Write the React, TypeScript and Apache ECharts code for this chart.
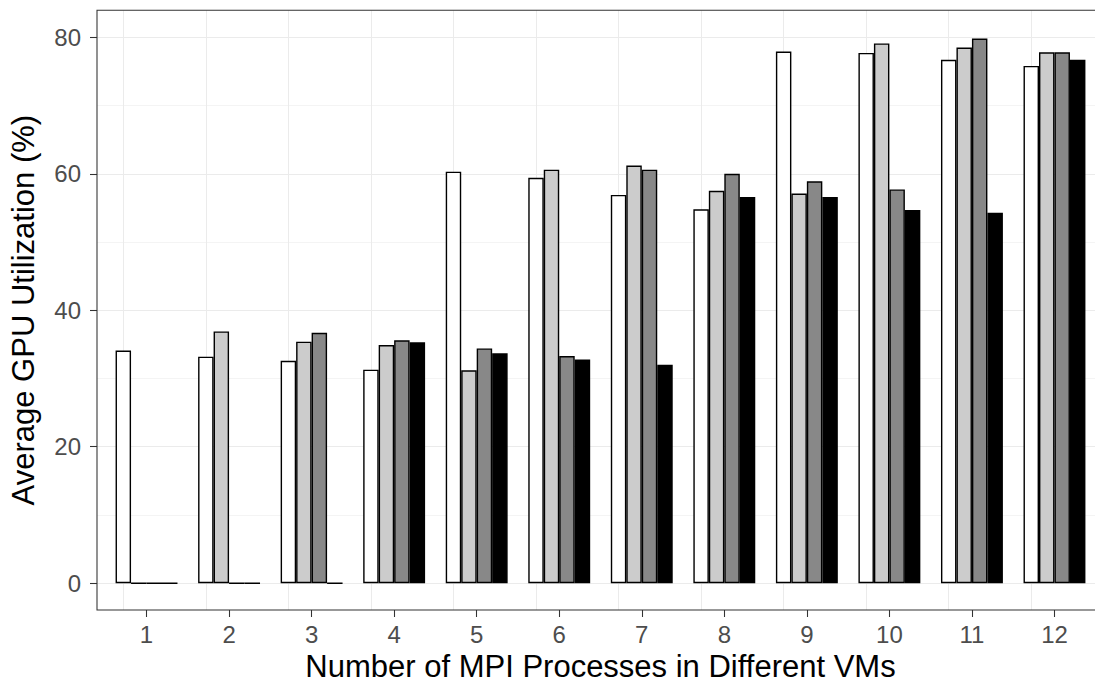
import React, { useEffect, useRef } from "react";
import * as echarts from "echarts";

const categories = [1, 2, 3, 4, 5, 6, 7, 8, 9, 10, 11, 12];
const seriesNames = ["Group 1", "Group 2", "Group 3", "Group 4"];
const whiteValues = [34.1, 33.2, 32.6, 31.3, 60.3, 59.4, 56.9, 54.8, 77.9, 77.7, 76.7, 75.8];
const lightValues = [0, 36.9, 35.4, 34.9, 31.2, 60.6, 61.2, 57.5, 57.1, 79.1, 78.5, 77.8];
const darkValues = [0, 0, 36.7, 35.6, 34.4, 33.3, 60.6, 60.0, 58.9, 57.7, 79.8, 77.8];
const blackValues = [0, 0, 0, 35.3, 33.7, 32.8, 32.0, 56.6, 56.6, 54.7, 54.3, 76.7];
const yTicks = [0, 20, 40, 60, 80];
const yMinorTicks = [10, 30, 50, 70];

const FONT = "'Liberation Sans', Arial, Helvetica, sans-serif";
const fills = ["#FFFFFF", "#CCCCCC", "#888888", "#000000"];

export default function App() {
  const ref = useRef<HTMLDivElement>(null);
  useEffect(() => {
    if (!ref.current) return;
    const chart = echarts.init(ref.current, null, { renderer: "svg" });
    const allValues = [whiteValues, lightValues, darkValues, blackValues];
    const gridLines: any[] = [];
    yTicks.forEach((v) => gridLines.push({ yAxis: v, lineStyle: { width: 1.07, color: "#EBEBEB", type: "solid" } }));
    yMinorTicks.forEach((v) => gridLines.push({ yAxis: v, lineStyle: { width: 0.55, color: "#EBEBEB", type: "solid" } }));
    categories.forEach((c) => gridLines.push({ xAxis: c, lineStyle: { width: 1.07, color: "#EBEBEB", type: "solid" } }));

    const series: any[] = allValues.map((vals, i) => ({
      name: seriesNames[i],
      type: "bar",
      data: vals.map((v, j) => [categories[j], v]),
      barGap: "0%",
      barCategoryGap: "25%",
      itemStyle: { color: fills[i], borderColor: "#000000", borderWidth: 1.4 },
      emphasis: { disabled: true },
      z: 2,
      ...(i === 0
        ? {
            markLine: {
              silent: true,
              z: 1,
              symbol: ["none", "none"],
              label: { show: false },
              emphasis: { disabled: true },
              animation: false,
              data: gridLines,
            },
          }
        : {}),
    }));

    const border = { stroke: "#333333", lineWidth: 1.07 };

    chart.setOption({
      animation: false,
      backgroundColor: "#FFFFFF",
      grid: { left: 97, top: 10.3, right: -9, bottom: 75, outerBoundsMode: "none" },
      xAxis: {
        type: "value",
        min: 0.4,
        max: 12.6,
        axisLine: { show: false, onZero: false },
        axisTick: { show: true, length: 7, customValues: categories, lineStyle: { color: "#333333", width: 1.07 } },
        axisLabel: { customValues: categories, margin: 12, fontSize: 24, color: "#4D4D4D", fontFamily: FONT },
        splitLine: { show: false },
        name: "Number of MPI Processes in Different VMs",
        nameLocation: "middle",
        nameGap: 38,
        nameTextStyle: { fontSize: 31, color: "#000000", fontFamily: FONT },
      },
      yAxis: {
        type: "value",
        min: -3.92,
        max: 83.95,
        axisLine: { show: false, onZero: false },
        axisTick: { show: true, length: 7, customValues: yTicks, lineStyle: { color: "#333333", width: 1.07 } },
        axisLabel: { customValues: yTicks, margin: 16, fontSize: 24, color: "#4D4D4D", fontFamily: FONT },
        splitLine: { show: false },
        name: "Average GPU Utilization (%)",
        nameLocation: "middle",
        nameGap: 58,
        nameTextStyle: { fontSize: 31, color: "#000000", fontFamily: FONT },
      },
      graphic: [
        {
          type: "polyline",
          z: 100,
          silent: true,
          shape: { points: [[1110, 10.3], [97, 10.3], [97, 610], [1110, 610]] },
          style: { fill: "none", ...border },
        },
      ],
      series,
    });
    return () => chart.dispose();
  }, []);
  return (
    <div
      ref={ref}
      style={{ position: "fixed", left: 0, top: 0, width: 1095, height: 685, background: "#FFFFFF" }}
    />
  );
}
